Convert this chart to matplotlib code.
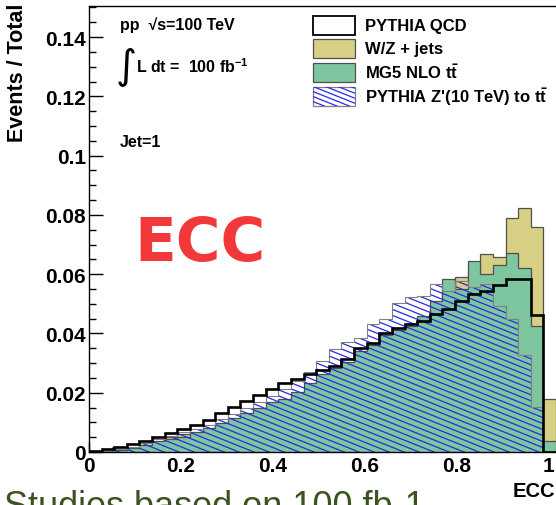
import numpy as np
import matplotlib
matplotlib.use("Agg")
import matplotlib.pyplot as plt
from matplotlib.collections import LineCollection
from matplotlib.patches import Rectangle
from matplotlib.ticker import MultipleLocator, FuncFormatter

plt.rcParams['font.family'] = ['Liberation Sans', 'DejaVu Sans']
plt.rcParams['font.weight'] = 'bold'
plt.rcParams['mathtext.fontset'] = 'custom'
plt.rcParams['mathtext.rm'] = 'Liberation Sans:bold'
plt.rcParams['mathtext.bf'] = 'Liberation Sans:bold'

# ECC histograms, 0.0275 wide bins from 0
bin_width = 0.0275
n_bins = 37
qcd = [0.0003, 0.0009, 0.0018, 0.0027, 0.0038, 0.0050, 0.0063, 0.0078, 0.0091, 0.0108,
       0.0132, 0.0152, 0.0172, 0.0192, 0.0213, 0.0232, 0.0246, 0.0264, 0.0276, 0.0291,
       0.0314, 0.0350, 0.0368, 0.0400, 0.0420, 0.0432, 0.0442, 0.0466, 0.0482, 0.0508,
       0.0533, 0.0544, 0.0565, 0.0584, 0.0584, 0.0462, 0.0]
wz_jets = [0.0001, 0.0002, 0.0006, 0.0012, 0.0022, 0.0033, 0.0052, 0.0060, 0.0062, 0.0075,
           0.0090, 0.0105, 0.0120, 0.0138, 0.0155, 0.0168, 0.0185, 0.0210, 0.0240, 0.0262,
           0.0285, 0.0320, 0.0340, 0.0370, 0.0390, 0.0400, 0.0430, 0.0480, 0.0550, 0.0592,
           0.0610, 0.0668, 0.0658, 0.0788, 0.0825, 0.0758, 0.0179]
ttbar = [0.0001, 0.0003, 0.0008, 0.0015, 0.0025, 0.0036, 0.0045, 0.0050, 0.0068, 0.0082,
         0.0098, 0.0115, 0.0132, 0.0150, 0.0168, 0.0180, 0.0202, 0.0232, 0.0262, 0.0285,
         0.0305, 0.0342, 0.0362, 0.0395, 0.0412, 0.0425, 0.0460, 0.0510, 0.0584, 0.0550,
         0.0645, 0.0600, 0.0630, 0.0670, 0.0622, 0.0426, 0.0038]
zprime = [0.0001, 0.0004, 0.0010, 0.0018, 0.0031, 0.0043, 0.0055, 0.0066, 0.0078, 0.0091,
          0.0110, 0.0129, 0.0148, 0.0168, 0.0188, 0.0213, 0.0240, 0.0270, 0.0308, 0.0347,
          0.0370, 0.0385, 0.0432, 0.0449, 0.0503, 0.0523, 0.0527, 0.0567, 0.0544, 0.0577,
          0.0558, 0.0566, 0.0494, 0.0449, 0.0327, 0.0151, 0.0]

legend_labels = ['PYTHIA QCD', 'W/Z + jets', r'MG5 NLO t$\bar{\mathrm{t}}$',
                 r"PYTHIA Z'(10 TeV) to t$\bar{\mathrm{t}}$"]

edges = np.arange(n_bins + 1) * bin_width

W, H = 556, 506
fig = plt.figure(figsize=(W / 100, H / 100), dpi=100)
fig.patch.set_facecolor('white')

def fx(x):
    return x / W

def fy(y):
    return 1 - y / H

# axes runs past the right edge of the canvas
x_max = 1.1
y_max = 0.1505
px_per_x = 459.0
ax = fig.add_axes([fx(89), fy(453), px_per_x * x_max / W, 446 / H])
ax.set_xlim(0, x_max)
ax.set_ylim(0, y_max)
px_per_y = 446 / y_max

yellow = '#d6cf84'
green = '#7dc6a0'
outline = '#505050'
hatch_blue = '#2a2ae0'

ax.stairs(wz_jets, edges, fill=True, facecolor=yellow, edgecolor=outline, lw=0.9, zorder=2)
ax.stairs(ttbar, edges, fill=True, facecolor=green, edgecolor=outline, lw=0.9, zorder=3)

# Z' histogram: slanted blue hatching clipped to the step outline
zp_patch = ax.stairs(zprime, edges, fill=True, facecolor='none', edgecolor='#808080',
                     lw=0.8, zorder=5)

def hatch_segments(x0, x1, y0, y1, slope, step):
    segs = []
    c = y0
    top = y1 - slope * (x1 - x0)
    while c <= top:
        segs.append([(x0, c), (x1, c + slope * (x1 - x0))])
        c += step
    return segs

slope_px = -0.4
step_px = 6.0
slope_data = slope_px * px_per_x / px_per_y
segs = hatch_segments(0, x_max, 0, y_max, slope_data, step_px / px_per_y)
lc = LineCollection(segs, colors=hatch_blue, linewidths=0.9, zorder=4)
ax.add_collection(lc)
lc.set_clip_path(zp_patch)

ax.stairs(qcd, edges, fill=False, baseline=0, edgecolor='black', lw=1.9, zorder=6)

# axis styling
ax.spines['right'].set_visible(False)
for side in ['left', 'bottom', 'top']:
    ax.spines[side].set_linewidth(1.0)
    ax.spines[side].set_zorder(7)

ax.xaxis.set_major_locator(MultipleLocator(0.2))
ax.xaxis.set_minor_locator(MultipleLocator(0.05))
ax.yaxis.set_major_locator(MultipleLocator(0.02))
ax.yaxis.set_minor_locator(MultipleLocator(0.005))
ax.xaxis.set_major_formatter(FuncFormatter(lambda v, p: f"{v:g}"))
ax.yaxis.set_major_formatter(FuncFormatter(lambda v, p: f"{v:g}"))
ax.tick_params(axis='both', which='both', direction='in', top=False, right=False,
               labelsize=15, width=1.0)
ax.tick_params(axis='y', which='major', length=10, pad=2)
ax.tick_params(axis='y', which='minor', length=5)
ax.tick_params(axis='x', which='major', length=7, pad=3)
ax.tick_params(axis='x', which='minor', length=3.5)
for lab in ax.get_xticklabels() + ax.get_yticklabels():
    lab.set_fontweight('bold')

fig.text(fx(18), fy(4), 'Events / Total', rotation=90, ha='center', va='top',
         fontsize=15.5, fontweight='bold')
fig.text(fx(555), fy(492), 'ECC', ha='right', va='center', fontsize=14.5,
         fontweight='bold')

# annotations
fig.text(fx(120), fy(25), 'pp  \u221as=100 TeV', ha='left', va='center', fontsize=11.5,
         fontweight='bold')
fig.text(fx(116), fy(66), '\u222b', ha='left', va='center', fontsize=29,
         family='DejaVu Sans', fontweight='normal')
fig.text(fx(136), fy(67), r'L dt =  100 fb$^{-1}$', ha='left', va='center',
         fontsize=11.5, fontweight='bold')
fig.text(fx(120), fy(143), 'Jet=1', ha='left', va='center', fontsize=11.5,
         fontweight='bold')

fig.text(fx(134), fy(245), 'ECC', ha='left', va='center', fontsize=44, color='#f2383a',
         family='DejaVu Sans', fontweight='bold')

fig.text(fx(4), fy(490), 'Studies based on 100 fb-1', ha='left', va='top', fontsize=26,
         color='#3b5320', fontweight='normal')

# legend drawn by hand
row_y = [26, 49.5, 73, 97]
box_x0, box_x1, box_h = 313, 355, 19
faces = ['white', yellow, green, 'white']
edges_c = ['black', outline, outline, '#808080']
for i, (yc, lab) in enumerate(zip(row_y, legend_labels)):
    rect = Rectangle((fx(box_x0), fy(yc + box_h / 2)), (box_x1 - box_x0) / W, box_h / H,
                     transform=fig.transFigure, facecolor=faces[i], edgecolor=edges_c[i],
                     lw=1.3 if i == 0 else 0.9, zorder=10)
    fig.add_artist(rect)
    if i == 3:
        lsegs = hatch_segments(box_x0, box_x1, yc - box_h / 2 - 30, yc + box_h / 2 + 20,
                               0.4, 5.0)
        lsegs = [[(fx(a), fy(b)) for a, b in s] for s in lsegs]
        llc = LineCollection(lsegs, colors=hatch_blue, linewidths=0.9,
                             transform=fig.transFigure, zorder=11)
        fig.add_artist(llc)
        llc.set_clip_path(rect)
    fig.text(fx(365), fy(yc), lab, ha='left', va='center', fontsize=12, fontweight='bold',
             zorder=12)

fig.savefig('out.png', dpi=100, facecolor='white')
